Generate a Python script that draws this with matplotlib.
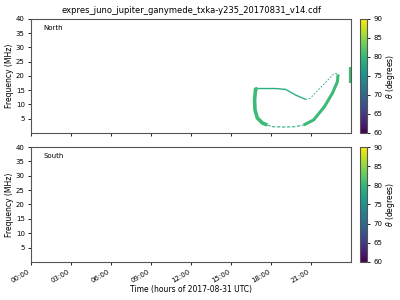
import matplotlib
matplotlib.use("Agg")
import matplotlib.pyplot as plt
import numpy as np
from matplotlib.colors import Normalize
from matplotlib.cm import ScalarMappable

title = "expres_juno_jupiter_ganymede_txka-y235_20170831_v14.cdf"
xlabel = "Time (hours of 2017-08-31 UTC)"
tick_hours = [0, 3, 6, 9, 12, 15, 18, 21]
tick_labels = ["00:00", "03:00", "06:00", "09:00", "12:00", "15:00", "18:00", "21:00"]
yticks = [5, 10, 15, 20, 25, 30, 35, 40]

# North hemisphere emission (hour, MHz, theta deg)
left_t = [17.0, 16.84, 16.77, 16.8, 16.97, 17.35, 17.72]
left_f = [15.6, 15.4, 11.6, 8.1, 5.3, 3.5, 2.8]
left_theta = 80.5

bottom_t = [17.72, 18.1, 19.0, 19.8, 20.45]
bottom_f = [2.8, 2.2, 2.1, 2.2, 2.8]
bottom_theta = 79.0

right_t = [20.45, 21.2, 22.0, 22.6, 22.98, 23.03]
right_f = [2.8, 4.6, 9.2, 13.9, 18.0, 20.6]
right_theta = 80.5

top_t = [17.0, 18.35, 19.1, 19.85, 20.6]
top_f = [15.6, 15.6, 15.3, 13.3, 11.8]
top_theta = 79.0

thin_t = [20.6, 20.95, 22.7, 23.0]
thin_f = [11.8, 12.2, 20.7, 21.0]
thin_theta = 76.5

edge_t = [23.92, 23.92]
edge_f = [17.5, 23.0]
edge_theta = 80.5

cmap = plt.get_cmap("viridis")
norm = Normalize(vmin=60, vmax=90)

fig = plt.figure(figsize=(4, 3), dpi=100)
ax1 = fig.add_axes([0.0775, 0.5567, 0.80, 0.38])
ax2 = fig.add_axes([0.0775, 0.1267, 0.80, 0.3833])
cax1 = fig.add_axes([0.9, 0.5567, 0.0175, 0.38])
cax2 = fig.add_axes([0.9, 0.1267, 0.0175, 0.3833])

segs = [
    (left_t, left_f, left_theta, 2.6, "-"),
    (bottom_t, bottom_f, bottom_theta, 0.8, (0, (3, 1.5))),
    (right_t, right_f, right_theta, 2.2, "-"),
    (top_t, top_f, top_theta, 1.0, "-"),
    (thin_t, thin_f, thin_theta, 0.6, (0, (2, 2))),
    (edge_t, edge_f, edge_theta, 1.6, "-"),
]
for t, f, th, lw, ls in segs:
    ax1.plot(t, f, color=cmap(norm(th)), lw=lw, ls=ls, solid_capstyle="butt")

for ax, name in [(ax1, "North"), (ax2, "South")]:
    ax.set_xlim(0, 24)
    ax.set_ylim(0, 40)
    ax.set_yticks(yticks)
    ax.set_xticks(tick_hours)
    ax.tick_params(labelsize=5, length=2.5, width=0.6, pad=2)
    ax.set_ylabel("Frequency (MHz)", fontsize=5.5, labelpad=1)
    ax.text(0.04, 0.9, name, transform=ax.transAxes, fontsize=5)
    for s in ax.spines.values():
        s.set_linewidth(0.8)
        s.set_color("#555555")

ax1.set_xticklabels([])
ax2.set_xticklabels(tick_labels, rotation=30, ha="right")
ax2.set_xlabel(xlabel, fontsize=5.5, labelpad=1)
ax1.set_title(title, fontsize=6, pad=4)

for cax in [cax1, cax2]:
    cb = fig.colorbar(ScalarMappable(norm=norm, cmap=cmap), cax=cax)
    cb.set_ticks([60, 65, 70, 75, 80, 85, 90])
    cb.ax.tick_params(labelsize=5, length=2.5, width=0.6, pad=2)
    cb.set_label(r"$\theta$ (degrees)", fontsize=5.5, labelpad=1)
    cb.outline.set_linewidth(0.8)
    cb.outline.set_edgecolor("#555555")

fig.savefig("out.png", dpi=100)
